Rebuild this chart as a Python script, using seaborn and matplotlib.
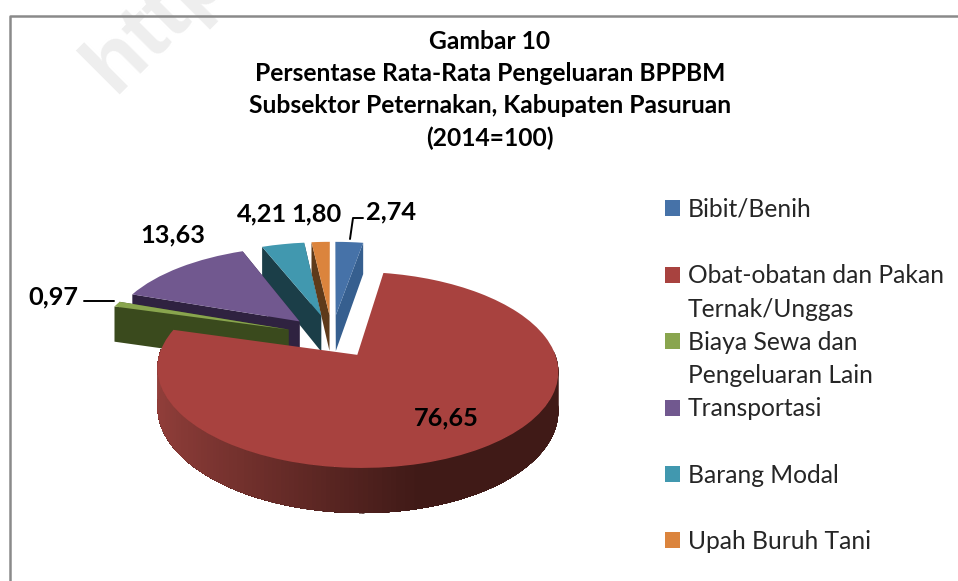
import numpy as np
import matplotlib.pyplot as plt
import matplotlib.transforms as mtransforms
from matplotlib.colors import to_rgb
from matplotlib.lines import Line2D
from matplotlib.patches import Patch
import seaborn as sns

categories = ['Bibit/Benih', 'Obat-obatan dan Pakan\nTernak/Unggas', 'Biaya Sewa dan\nPengeluaran Lain',
              'Transportasi', 'Barang Modal', 'Upah Buruh Tani']
values = [2.74, 76.65, 0.97, 13.63, 4.21, 1.80]
colors = ['#4672A8', '#A8423F', '#89A54E', '#71588F', '#4198AF', '#DB843D']
wall_colors = ['#365F8F', '#8E3E3A', '#3A4A1D', '#2F2240', '#1B3E48', '#5E3A1A']
title_lines = 'Gambar 10\nPersentase Rata-Rata Pengeluaran BPPBM\nSubsektor Peternakan, Kabupaten Pasuruan\n(2014=100)'

# drawing order, back to front
draw_order = [0, 5, 4, 3, 2, 1]
EXPLODE = 0.24

# "camera" of the fake 3d pie, in pixels
CX, CY = 332, 336
AX_X, AX_Y = 192, 90
PERSP = 0.149
DEPTH = 37


class PieCamera(mtransforms.Transform):
    input_dims = 2
    output_dims = 2
    is_separable = False
    has_inverse = False

    def __init__(self, drop=0):
        super().__init__()
        self.drop = drop

    def transform_non_affine(self, xy):
        xy = np.asarray(xy, dtype=float)
        s = 1 / (1 + PERSP * xy[:, 1])
        return np.column_stack([CX + AX_X * xy[:, 0] * s,
                                CY - AX_Y * xy[:, 1] * s + self.drop * s])


sns.set_theme(style='white')
plt.rcParams['font.family'] = ['Lato', 'DejaVu Sans']

fig = plt.figure(figsize=(9.58, 5.81), dpi=100)
ax = fig.add_axes([0, 0, 1, 1])

# top faces
camera = PieCamera()
wedges, _ = ax.pie(values, explode=[EXPLODE] * len(values), colors=sns.color_palette(colors),
                   startangle=90, counterclock=False, radius=1,
                   wedgeprops={'transform': camera + ax.transData, 'linewidth': 0})
ax.set_aspect('auto')
ax.set_xlim(0, 958)
ax.set_ylim(581, 0)

# slice angles clockwise from 12 o'clock
edges = np.concatenate([[0], np.cumsum(values)]) / np.sum(values) * 2 * np.pi
bottom = PieCamera(DEPTH)

for rank, i in enumerate(draw_order):
    wedges[i].set_zorder(10 + 2 * rank + 1)
    a0, a1 = edges[i], edges[i + 1]
    mid = (a0 + a1) / 2
    ox, oy = EXPLODE * np.sin(mid), EXPLODE * np.cos(mid)
    apex = np.array([[ox, oy]])

    # radial walls
    for a in (a0, a1):
        rim = np.array([[ox + np.sin(a), oy + np.cos(a)]])
        pts = np.vstack([camera.transform(apex), camera.transform(rim),
                         bottom.transform(rim), bottom.transform(apex)])
        if i != 1:
            ax.fill(pts[:, 0], pts[:, 1], color=wall_colors[i], lw=0, zorder=10 + 2 * rank)

    # outer rim, only the part facing us. each band runs on to the end of the
    # rim and the next one paints over it, that way no seams show
    thetas = np.linspace(a0, a1, 240)
    thetas = thetas[np.cos(thetas) < 0.06]
    for k in range(len(thetas) - 1):
        t = thetas[k:]
        seg = np.column_stack([ox + np.sin(t), oy + np.cos(t)])
        pts = np.vstack([camera.transform(seg), bottom.transform(seg[::-1])])
        # shading runs from light on the left to dark on the right
        u = np.clip((0.25 - np.sin(t[0])) / 1.25, 0, 1)
        shade = np.array(to_rgb('#933F3B')) * u + np.array(to_rgb('#401A17')) * (1 - u)
        ax.fill(pts[:, 0], pts[:, 1], color=tuple(shade), lw=0, zorder=10 + 2 * rank)

# page furniture
ax.plot([10, 10, 958], [581, 15.5, 15.5], color='#8A8A8A', lw=1.8, zorder=1)
ax.text(114, 94, 'http', rotation=45, rotation_mode='anchor', fontsize=62, fontweight='bold',
        family='Liberation Sans', color='#EEEEEE', zorder=0, clip_on=True)

ax.text(490, 90, title_lines, ha='center', va='center', fontsize=17.7, fontweight='bold',
        linespacing=1.485, color='black', zorder=40)

# data labels
labels = [f'{v:.2f}'.replace('.', ',') for v in values]
label_pos = [(391, 212), (446, 418), (53, 297), (173, 235), (262, 214), (316, 214)]
for txt, (x, y) in zip(labels, label_pos):
    ax.text(x, y, txt, ha='center', va='center', fontsize=18.3, fontweight='bold', color='black', zorder=40)
ax.plot([84, 114], [301, 301], color='black', lw=1.4, zorder=40)
ax.plot([350, 353, 363], [239, 218, 218], color='black', lw=1.4, zorder=40)

# legend, one row per text line so the spacing stays even
handles, rows = [], []
for name, col in zip(categories, colors):
    parts = name.split('\n')
    handles.append(Patch(facecolor=col, edgecolor='none'))
    rows.append(parts[0])
    handles.append(Line2D([], [], alpha=0))
    rows.append(parts[1] if len(parts) > 1 else ' ')
ax.legend(handles[:-1], rows[:-1], loc='upper left', bbox_to_anchor=(665 / 958, 1 - 198 / 581), frameon=False,
          fontsize=17.7, labelcolor='#262626', handlelength=0.62, handleheight=0.62, handletextpad=0.3,
          labelspacing=0.415, borderpad=0, borderaxespad=0).set_zorder(40)

fig.savefig('out.png', dpi=100)
